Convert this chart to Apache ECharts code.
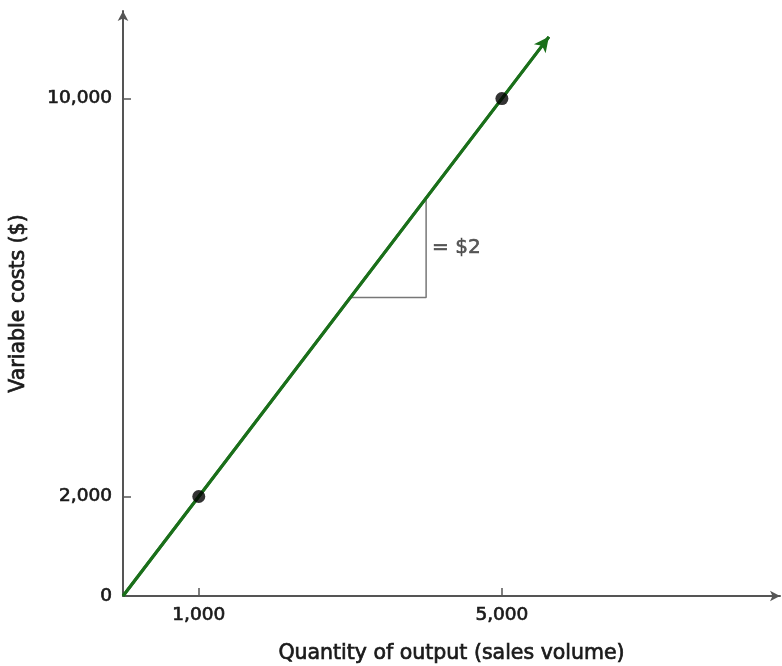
<!DOCTYPE html>
<html>
<head>
<meta charset="utf-8">
<script src="https://cdn.jsdelivr.net/npm/echarts@6/dist/echarts.min.js"></script>
<style>html,body{margin:0;padding:0;background:#fff;}#c{width:782px;height:666px;}</style>
</head>
<body>
<div id="c"></div>
<script>
var xTicks = [1000, 5000];
var yTicks = [0, 2000, 10000];
var costLine = [[0, 0], [5620, 11240]];
var points = [[1000, 2000], [5000, 10000]];
var slopeTriangle = [[3000, 6000], [4000, 6000], [4000, 8000]];
var slopeLabel = [[4000, 7000, '= $2']];

var chart = echarts.init(document.getElementById('c'));
var font = 'DejaVu Sans, Liberation Sans, sans-serif';
var ink = '#1a1a1a';
var bold = {textBorderColor: ink, textBorderWidth: 0.7};
chart.setOption({
  animation: false,
  grid: {left: 123, right: 2, top: 11, bottom: 70, outerBoundsMode: 'none', containLabel: false},
  xAxis: {
    type: 'value', min: 0, max: 8670,
    name: 'Quantity of output (sales volume)', nameLocation: 'middle', nameGap: 47,
    nameTextStyle: Object.assign({fontFamily: font, fontSize: 20.5, color: ink}, bold),
    splitLine: {show: false},
    axisLine: {lineStyle: {color: '#555', width: 2}, symbol: ['none', 'arrow'], symbolSize: [8, 10]},
    axisTick: {inside: true, length: 8, customValues: xTicks, lineStyle: {color: '#555', width: 1.5}},
    axisLabel: Object.assign({customValues: xTicks, margin: 10, fontFamily: font, fontSize: 18.5, color: ink,
      formatter: function (v) { return v.toLocaleString('en-US'); }}, bold)
  },
  yAxis: {
    type: 'value', min: 0, max: 11760,
    name: 'Variable costs ($)', nameLocation: 'middle', nameGap: 94, nameRotate: 90,
    nameTextStyle: Object.assign({fontFamily: font, fontSize: 20.5, color: ink}, bold),
    splitLine: {show: false},
    axisLine: {lineStyle: {color: '#555', width: 2}, symbol: ['none', 'arrow'], symbolSize: [8, 10]},
    axisTick: {inside: true, length: 8, customValues: [2000, 10000], lineStyle: {color: '#555', width: 1.5}},
    axisLabel: Object.assign({customValues: yTicks, margin: 11, fontFamily: font, fontSize: 18.5, color: ink,
      formatter: function (v) { return v.toLocaleString('en-US'); }}, bold)
  },
  series: [
    {
      type: 'line', data: slopeTriangle, symbol: 'none',
      lineStyle: {color: '#777', width: 1.5}, z: 1
    },
    {
      type: 'line', data: costLine, symbol: 'none',
      lineStyle: {color: '#1a6f1a', width: 3}, z: 3,
      markLine: {
        silent: true, symbol: ['none', 'arrow'], symbolSize: [11, 15], label: {show: false},
        lineStyle: {color: '#1a6f1a', width: 3, type: 'solid'},
        data: [[{coord: costLine[0]}, {coord: costLine[1]}]]
      }
    },
    {
      type: 'scatter', data: points, symbolSize: 13,
      itemStyle: {color: '#000'}, z: 5
    },
    {
      type: 'scatter', data: slopeLabel, symbolSize: 0,
      label: {show: true, position: 'right', distance: 6, formatter: function (p) { return p.data[2]; },
        fontFamily: font, fontSize: 20, color: '#333', textBorderColor: '#333', textBorderWidth: 0.6}
    }
  ]
});
</script>
</body>
</html>
